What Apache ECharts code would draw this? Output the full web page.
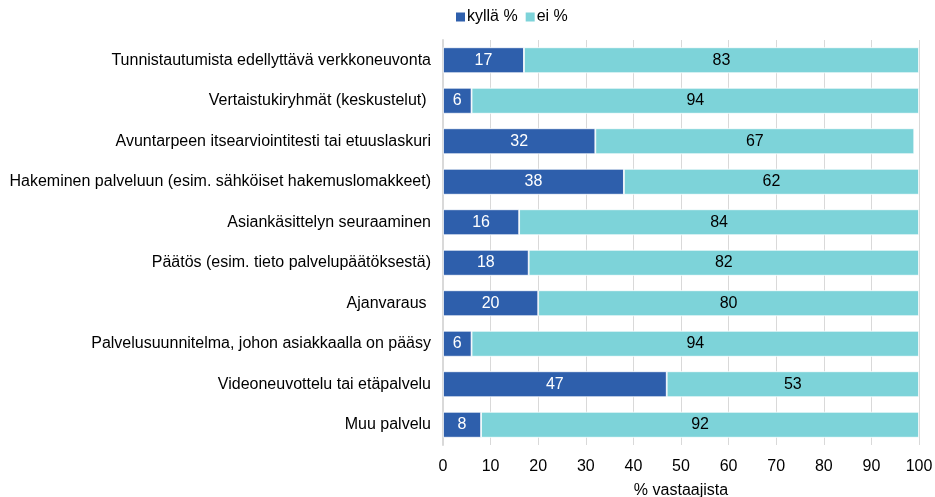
<!DOCTYPE html>
<html>
<head>
<meta charset="utf-8">
<script src="https://cdn.jsdelivr.net/npm/echarts@6/dist/echarts.min.js"></script>
<style>
  html, body { margin: 0; padding: 0; background: #fff; }
  #chart { width: 935px; height: 497px; }
</style>
</head>
<body>
<div id="chart"></div>
<script>
// kategoriat ylhäältä alas
var categories = [
  'Tunnistautumista edellyttävä verkkoneuvonta',
  'Vertaistukiryhmät (keskustelut) ',
  'Avuntarpeen itsearviointitesti tai etuuslaskuri',
  'Hakeminen palveluun (esim. sähköiset hakemuslomakkeet)',
  'Asiankäsittelyn seuraaminen',
  'Päätös (esim. tieto palvelupäätöksestä)',
  'Ajanvaraus ',
  'Palvelusuunnitelma, johon asiakkaalla on pääsy',
  'Videoneuvottelu tai etäpalvelu',
  'Muu palvelu'
];
var kylla = [17, 6, 32, 38, 16, 18, 20, 6, 47, 8];
var ei = [83, 94, 67, 62, 84, 82, 80, 94, 53, 92];
var xTicks = { min: 0, max: 100, interval: 10 };

var chart = echarts.init(document.getElementById('chart'));
var font = 'Liberation Sans, Arial, sans-serif';
var fs = 16;

chart.setOption({
  animation: false,
  textStyle: { fontFamily: font },
  legend: {
    top: 4,
    left: 449,
    itemWidth: 11,
    itemHeight: 11,
    itemGap: 6,
    icon: 'rect',
    textStyle: { fontSize: fs, color: '#000', fontFamily: font, padding: [0, 0, 0, -4] },
    data: ['kyllä %', 'ei %']
  },
  grid: { left: 443, right: 16, top: 40, bottom: 52, outerBoundsMode: 'none' },
  xAxis: {
    type: 'value',
    min: xTicks.min,
    max: xTicks.max,
    interval: xTicks.interval,
    name: '% vastaajista',
    nameLocation: 'middle',
    nameGap: 38,
    nameTextStyle: { fontSize: fs, color: '#000', fontFamily: font },
    axisLine: { show: false },
    axisTick: { show: false },
    axisLabel: { fontSize: fs, color: '#000', margin: 14, fontFamily: font },
    splitLine: { lineStyle: { color: '#d9d9d9', width: 1 } }
  },
  yAxis: {
    type: 'category',
    inverse: true,
    data: categories,
    axisLine: { show: true, lineStyle: { color: '#d9d9d9', width: 2 } },
    axisTick: { show: false },
    axisLabel: { fontSize: fs, color: '#000', margin: 12, fontFamily: font }
  },
  series: [
    {
      name: 'kyllä %',
      type: 'bar',
      stack: 'total',
      barWidth: '64%',
      data: kylla,
      itemStyle: { color: '#2e5fac', borderColor: '#fff', borderWidth: 0.8 },
      label: { show: true, position: 'inside', color: '#fff', fontSize: fs, fontFamily: font }
    },
    {
      name: 'ei %',
      type: 'bar',
      stack: 'total',
      data: ei,
      itemStyle: { color: '#7dd3d9', borderColor: '#fff', borderWidth: 0.8 },
      label: { show: true, position: 'inside', color: '#000', fontSize: fs, fontFamily: font }
    }
  ]
});
</script>
</body>
</html>
